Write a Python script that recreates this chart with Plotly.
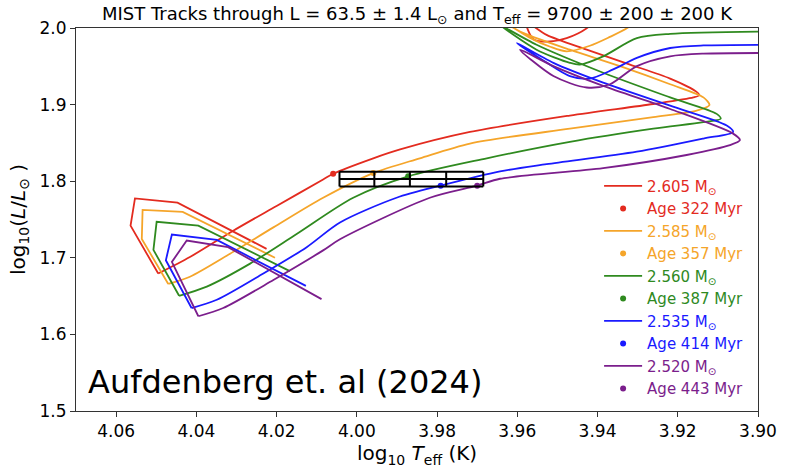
import numpy as np
import plotly.graph_objects as go

# ---------------- data ----------------
masses = ["2.605", "2.585", "2.560", "2.535", "2.520"]
ages_myr = [322, 357, 387, 414, 443]
colors = ["#e32b1f", "#f5a52a", "#2f8a1f", "#1a1aff", "#7b1e8c"]

# tracks: first five points = pre-main-sequence end down to ZAMS, rest = MS onward
logT_2605 = [4.0225, 4.0447, 4.0553, 4.0564, 4.0495, 4.0416, 4.0308, 4.0200, 4.0084, 4.0059,
             3.9959, 3.9892, 3.9718, 3.9469, 3.9261, 3.9161, 3.9146, 3.9153, 3.9219, 3.9319,
             3.9427, 3.9527, 3.9578, 3.9560, 3.9518, 3.9477, 3.9427, 3.9394]
logL_2605 = [1.7117, 1.7719, 1.7775, 1.7419, 1.6795, 1.7010, 1.7354, 1.7677, 1.8022, 1.8097,
             1.8299, 1.8415, 1.8643, 1.8857, 1.9008, 1.9094, 1.9124, 1.9166, 1.9339, 1.9523,
             1.9717, 1.9910, 2.0077, 1.9854, 1.9824, 1.9867, 1.9996, 2.0168]

logT_2585 = [4.0204, 4.0434, 4.0534, 4.0536, 4.0470, 4.0416, 4.0316, 4.0208, 4.0084, 3.9959,
             3.9843, 3.9718, 3.9469, 3.9261, 3.9153, 3.9121, 3.9136, 3.9219, 3.9344, 3.9469,
             3.9593, 3.9631, 3.9568, 3.9518, 3.9477, 3.9419, 3.9369, 3.9327, 3.9294]
logL_2585 = [1.7001, 1.7599, 1.7625, 1.7246, 1.6659, 1.6753, 1.7053, 1.7397, 1.7784, 1.8106,
             1.8299, 1.8492, 1.8686, 1.8836, 1.8921, 1.8995, 1.9094, 1.9266, 1.9502, 1.9717,
             1.9953, 2.0077, 1.9871, 1.9755, 1.9695, 1.9768, 1.9884, 1.9996, 2.0129]

logT_2560 = [4.0167, 4.0395, 4.0499, 4.0507, 4.0443, 4.0374, 4.0266, 4.0150, 4.0009, 3.9872,
             3.9676, 3.9469, 3.9261, 3.9136, 3.9093, 3.9103, 3.9219, 3.9386, 3.9552, 3.9643,
             3.9552, 3.9469, 3.9444, 3.9386, 3.9302, 3.9219, 3.8950]
logL_2560 = [1.6826, 1.7419, 1.7470, 1.7104, 1.6504, 1.6624, 1.6924, 1.7311, 1.7784, 1.8063,
             1.8299, 1.8514, 1.8686, 1.8772, 1.8815, 1.8879, 1.9094, 1.9416, 1.9781, 2.0039,
             1.9717, 1.9545, 1.9523, 1.9630, 1.9867, 1.9923, 1.9955]

logT_2535 = [4.0127, 4.0349, 4.0461, 4.0476, 4.0412, 4.0349, 4.0233, 4.0125, 4.0042, 3.9901,
             3.9791, 3.9643, 3.9527, 3.9302, 3.9136, 3.9062, 3.9078, 3.9219, 3.9386, 3.9510,
             3.9601, 3.9531, 3.9469, 3.9419, 3.9361, 3.9302, 3.9219, 3.9136, 3.8950]
logL_2535 = [1.6633, 1.7233, 1.7303, 1.6968, 1.6344, 1.6452, 1.6795, 1.7139, 1.7461, 1.7784,
             1.7942, 1.8128, 1.8222, 1.8385, 1.8557, 1.8643, 1.8728, 1.8986, 1.9287, 1.9545,
             1.9803, 1.9562, 1.9373, 1.9339, 1.9459, 1.9610, 1.9739, 1.9772, 1.9781]

logT_2520 = [4.0088, 4.0321, 4.0424, 4.0461, 4.0395, 4.0333, 4.0208, 4.0084, 4.0042, 3.9818,
             3.9700, 3.9643, 3.9386, 3.9178, 3.9070, 3.9045, 3.9062, 3.9219, 3.9386, 3.9510,
             3.9593, 3.9510, 3.9427, 3.9369, 3.9302, 3.9219, 3.9136, 3.8950]
logL_2520 = [1.6460, 1.7139, 1.7226, 1.6946, 1.6237, 1.6344, 1.6710, 1.7097, 1.7242, 1.7784,
             1.7942, 1.8032, 1.8170, 1.8342, 1.8470, 1.8535, 1.8621, 1.8943, 1.9244, 1.9502,
             1.9717, 1.9373, 1.9223, 1.9266, 1.9502, 1.9630, 1.9665, 1.9674]

age_logT = [4.0059, 3.9959, 3.9872, 3.9791, 3.9700]
age_logL = [1.8097, 1.8106, 1.8063, 1.7942, 1.7942]

L_obs, L_err = 63.5, 1.4
Teff_obs, Teff_err1, Teff_err2 = 9700, 200, 200

x_ticks = [4.06, 4.04, 4.02, 4.00, 3.98, 3.96, 3.94, 3.92, 3.90]
y_ticks = [1.5, 1.6, 1.7, 1.8, 1.9, 2.0]

tracks_T = [logT_2605, logT_2585, logT_2560, logT_2535, logT_2520]
tracks_L = [logL_2605, logL_2585, logL_2560, logL_2535, logL_2520]
N_PRE = 5  # number of pre-MS vertices (ending at ZAMS)

# ---------------- figure ----------------
FONT = "DejaVu Sans"
fig = go.Figure()

for i in range(len(masses)):
    c = colors[i]
    T, L = tracks_T[i], tracks_L[i]
    fig.add_trace(go.Scatter(
        x=T[N_PRE - 1:], y=L[N_PRE - 1:], mode="lines",
        line=dict(color=c, width=1.8, shape="spline", smoothing=0.8),
        legendgroup=f"m{i}",
        name=f"<span style='color:{c}'>{masses[i]} M<sub>⊙</sub></span>",
    ))
    fig.add_trace(go.Scatter(
        x=T[:N_PRE], y=L[:N_PRE], mode="lines",
        line=dict(color=c, width=1.8),
        legendgroup=f"m{i}", showlegend=False,
    ))
    fig.add_trace(go.Scatter(
        x=[age_logT[i]], y=[age_logL[i]], mode="markers",
        marker=dict(color=c, size=6),
        name=f"<span style='color:{c}'>Age {ages_myr[i]} Myr</span>",
    ))

# error box
logL_lv = np.log10([L_obs - L_err, L_obs, L_obs + L_err])
logT_lv = np.log10([Teff_obs - Teff_err1 - Teff_err2, Teff_obs - Teff_err1, Teff_obs,
                    Teff_obs + Teff_err1, Teff_obs + Teff_err1 + Teff_err2])
bx, by = [], []
for l in logL_lv:
    bx += [logT_lv.min(), logT_lv.max(), None]
    by += [l, l, None]
for t in logT_lv:
    bx += [t, t, None]
    by += [logL_lv.min(), logL_lv.max(), None]
fig.add_trace(go.Scatter(x=bx, y=by, mode="lines", line=dict(color="black", width=2),
                         showlegend=False, hoverinfo="skip"))

axis_common = dict(showline=True, linecolor="#333333", linewidth=1, mirror=True,
                   ticks="outside", ticklen=5, tickcolor="#333333", showgrid=False,
                   zeroline=False, tickfont=dict(family=FONT, size=17, color="black"))

fig.update_layout(
    width=807, height=471,
    margin=dict(l=76, r=49, t=28, b=55),
    paper_bgcolor="white", plot_bgcolor="white",
    font=dict(family=FONT, color="black"),
    title=dict(text="MIST Tracks through L = 63.5 ± 1.4 L<sub>⊙</sub> and T<sub>eff</sub> = 9700 ± 200 ± 200 K",
               x=0.5, xanchor="center", xref="paper", y=0.97, yanchor="middle",
               font=dict(family=FONT, size=18, color="black")),
    xaxis=dict(range=[4.07, 3.90], tickvals=x_ticks, ticktext=[f"{v:.2f}" for v in x_ticks],
               title=dict(text="log<sub>10</sub> <i>T</i><sub>eff</sub> (K)", standoff=4,
                          font=dict(family=FONT, size=20, color="black")),
               **axis_common),
    yaxis=dict(range=[1.5, 2.0], tickvals=y_ticks, ticktext=[f"{v:.1f}" for v in y_ticks],
               title=dict(text="log<sub>10</sub>(<i>L</i>/<i>L</i><sub>⊙</sub> )", standoff=8,
                          font=dict(family=FONT, size=20, color="black")),
               **axis_common),
    legend=dict(x=0.767, xanchor="left", y=0.63, yanchor="top",
                font=dict(family=FONT, size=15), bgcolor="rgba(0,0,0,0)",
                itemwidth=38, tracegroupgap=0),
    showlegend=True,
    annotations=[dict(text="Aufdenberg et. al (2024)", xref="paper", yref="paper",
                      x=0.015, y=0.02, xanchor="left", yanchor="bottom", showarrow=False,
                      font=dict(family=FONT, size=32, color="black"))],
)

fig.write_html("out.html")
